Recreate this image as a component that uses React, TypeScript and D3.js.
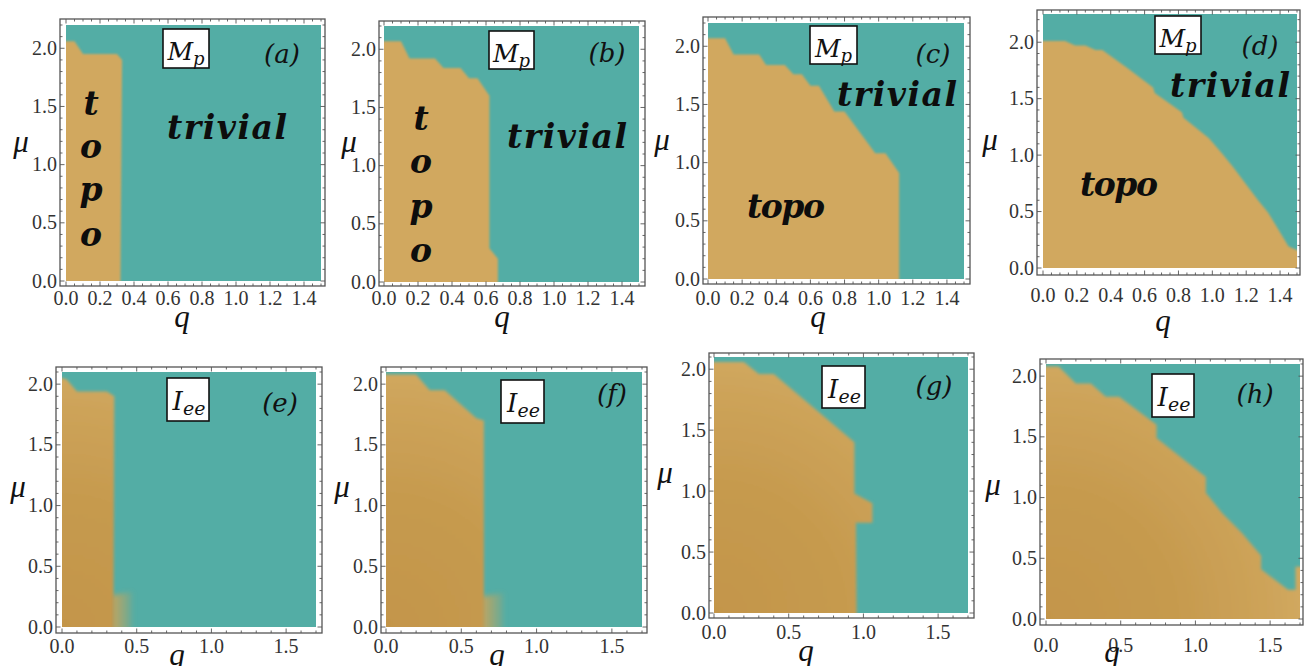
import React from 'react';
import * as d3 from 'd3';

// ---------- data ----------
const qTicksTop = [0, 0.2, 0.4, 0.6, 0.8, 1.0, 1.2, 1.4];
const qTicksBottom = [0, 0.5, 1.0, 1.5];
const muTicks = [0, 0.5, 1.0, 1.5, 2.0];

// topological-phase region boundaries, [q, mu]
const topoA = [[0, 0], [0, 2.06], [0.05, 2.06], [0.1, 1.95], [0.3, 1.95], [0.33, 1.9], [0.32, 0]];
const topoB = [[0, 0], [0, 2.07], [0.1, 2.07], [0.15, 1.92], [0.3, 1.92], [0.35, 1.84], [0.45, 1.84], [0.5, 1.75], [0.55, 1.75], [0.62, 1.6], [0.62, 0.29], [0.67, 0.2], [0.67, 0]];
const topoC = [[0, 0], [0, 2.07], [0.1, 2.07], [0.15, 1.93], [0.3, 1.93], [0.34, 1.84], [0.45, 1.84], [0.5, 1.76], [0.55, 1.76], [0.6, 1.66], [0.65, 1.66], [0.74, 1.44], [0.8, 1.44], [0.98, 1.08], [1.04, 1.08], [1.12, 0.91], [1.12, 0]];
const topoD = [[0, 0], [0, 2.01], [0.13, 2.01], [0.19, 1.97], [0.25, 1.97], [0.31, 1.93], [0.35, 1.93], [0.5, 1.77], [0.65, 1.6], [0.66, 1.55], [0.82, 1.38], [0.83, 1.33], [0.98, 1.15], [1.06, 1.01], [1.12, 0.9], [1.21, 0.72], [1.27, 0.6], [1.33, 0.49], [1.39, 0.34], [1.45, 0.19], [1.5, 0.12], [1.5, 0]];
const topoE = [[0, 0], [0, 2.07], [0.03, 2.04], [0.1, 1.94], [0.3, 1.94], [0.35, 1.9], [0.345, 0.3], [0.345, 0]];
const topoF = [[0, 0], [0, 2.08], [0.2, 2.08], [0.29, 1.95], [0.39, 1.95], [0.6, 1.72], [0.65, 1.7], [0.65, 0]];
const topoG = [[0, 0], [0, 2.06], [0.2, 2.06], [0.3, 1.96], [0.4, 1.96], [0.94, 1.4], [0.94, 0.98], [1.06, 0.9], [1.06, 0.74], [0.95, 0.74], [0.955, 0]];
const topoH = [[0, 0], [0, 2.08], [0.085, 2.08], [0.2, 1.94], [0.3, 1.94], [0.4, 1.83], [0.49, 1.83], [0.74, 1.6], [0.74, 1.49], [1.07, 1.17], [1.07, 1.04], [1.18, 0.87], [1.31, 0.71], [1.44, 0.52], [1.44, 0.41], [1.62, 0.24], [1.67, 0.24], [1.67, 0.43], [1.7, 0.43], [1.7, 0]];
const bumpE = [[0.33, 0], [0.33, 0.26], [0.47, 0.29], [0.47, 0]];
const bumpF = [[0.63, 0], [0.63, 0.25], [0.78, 0.28], [0.78, 0]];

const panelIds = ['a', 'b', 'c', 'd', 'e', 'f', 'g', 'h'];
const panelQMax = [1.5, 1.5, 1.5, 1.5, 1.7, 1.7, 1.7, 1.7];
const panelMuMax = [2.2, 2.2, 2.2, 2.25, 2.1, 2.1, 2.1, 2.1];
const panelQuantity = ['Mp', 'Mp', 'Mp', 'Mp', 'Iee', 'Iee', 'Iee', 'Iee'];
const panelTopo = [topoA, topoB, topoC, topoD, topoE, topoF, topoG, topoH];
const panelBump = [null, null, null, null, bumpE, bumpF, null, null];

// ---------- layout ----------
const layout = [
  { frame: [60, 19, 325, 286], area: [66, 25, 321, 281], tickOff: 19, box: [163, 29, 209, 68], tag: [282, 63], mu: [21, 152], q: [182, 327], trivial: [227, 139], topoV: [91, [115, 158, 201, 246]] },
  { frame: [379, 21, 645, 286], area: [384, 26, 639, 282], tickOff: 19, box: [489, 31, 534, 69], tag: [607, 62], mu: [349, 152], q: [502, 327], trivial: [567, 148], topoV: [421, [130, 173, 218, 262]] },
  { frame: [703, 17, 970, 284], area: [708, 23, 964, 279], tickOff: 21, box: [810, 26, 857, 64], tag: [933, 63], mu: [662, 150], q: [818, 327], trivial: [897, 106], topoH: [786, 218] },
  { frame: [1037, 10, 1300, 275], area: [1043, 14, 1297, 268], tickOff: 27, box: [1155, 16, 1201, 54], tag: [1260, 55], mu: [990, 150], q: [1163, 331], trivial: [1230, 97], topoH: [1119, 196] },
  { frame: [56, 367, 322, 633], area: [62, 372, 316, 627], tickOff: 20, box: [167, 378, 209, 421], tag: [280, 412], mu: [18, 497], q: [177, 665] },
  { frame: [381, 367, 647, 633], area: [386, 372, 642, 627], tickOff: 20, box: [501, 380, 544, 423], tag: [612, 403], mu: [342, 497], q: [497, 665] },
  { frame: [709, 353, 974, 618], area: [714, 357, 968, 613], tickOff: 21, box: [822, 366, 865, 408], tag: [934, 395], mu: [665, 483], q: [806, 661] },
  { frame: [1040, 359, 1303, 625], area: [1046, 364, 1300, 619], tickOff: 27, box: [1152, 374, 1194, 417], tag: [1255, 403], mu: [993, 495], q: [1112, 662] },
];

const TEAL = '#53ada5';
const TAN = '#d1a85e';
const serif = '"Liberation Serif", "Times New Roman", Times, serif';
const djSerif = '"DejaVu Serif", serif';
const fmt = d3.format('.1f');

function Panel({ i }: { i: number }) {
  const L = layout[i];
  const id = panelIds[i];
  const qMax = panelQMax[i];
  const muMax = panelMuMax[i];
  const [fx0, fy0, fx1, fy1] = L.frame;
  const [ax0, ay0, ax1, ay1] = L.area;
  const x = d3.scaleLinear().domain([0, qMax]).range([ax0, ax1]);
  const y = d3.scaleLinear().domain([0, muMax]).range([ay1, ay0]);
  const top = i < 4;
  const isI = panelQuantity[i] === 'Iee';

  const px = (p: number[]) => {
    let X = x(p[0]);
    let Y = y(p[1]);
    if (p[0] <= 0) X -= 10;
    if (p[0] >= qMax - 1e-9) X += 10;
    if (p[1] <= 0) Y += 10;
    return [X, Y] as [number, number];
  };
  const line = d3.line<number[]>().x((p) => px(p)[0]).y((p) => px(p)[1]);
  const topoPath = line(panelTopo[i]) + 'Z';
  const bump = panelBump[i];

  const xMajor = top ? qTicksTop : qTicksBottom;
  const xMinorStep = top ? 0.05 : 0.1;
  const xMinor = d3.range(0, qMax + 1e-9, xMinorStep).filter((v) => !xMajor.some((m) => Math.abs(m - v) < 1e-6));
  const yMinor = d3.range(0, muMax + 1e-9, 0.1).filter((v) => !muTicks.some((m) => Math.abs(m - v) < 1e-6));
  const tickCol = '#555';
  const M = 4.5, m = 2.5;

  const ticks: any[] = [];
  const addX = (v: number, len: number, k: string) => {
    const X = x(v);
    ticks.push(<line key={'xb' + k} x1={X} x2={X} y1={fy1} y2={fy1 - len} stroke={tickCol} strokeWidth={0.9} />);
    ticks.push(<line key={'xt' + k} x1={X} x2={X} y1={fy0} y2={fy0 + len} stroke={tickCol} strokeWidth={0.9} />);
  };
  const addY = (v: number, len: number, k: string) => {
    const Y = y(v);
    ticks.push(<line key={'yl' + k} x1={fx0} x2={fx0 + len} y1={Y} y2={Y} stroke={tickCol} strokeWidth={0.9} />);
    ticks.push(<line key={'yr' + k} x1={fx1} x2={fx1 - len} y1={Y} y2={Y} stroke={tickCol} strokeWidth={0.9} />);
  };
  xMajor.forEach((v, k) => addX(v, M, 'M' + k));
  xMinor.forEach((v, k) => addX(v, m, 'm' + k));
  muTicks.forEach((v, k) => addY(v, M, 'M' + k));
  yMinor.forEach((v, k) => addY(v, m, 'm' + k));

  const [bx0, by0, bx1, by1] = L.box;
  const bcx = (bx0 + bx1) / 2;

  return (
    <g>
      <defs>
        <clipPath id={'clip' + id}>
          <rect x={ax0} y={ay0} width={ax1 - ax0} height={ay1 - ay0} />
        </clipPath>
        <filter id={'blur' + id} x="-20%" y="-20%" width="140%" height="140%">
          <feGaussianBlur stdDeviation={isI ? 1.8 : 1.3} />
        </filter>
        <filter id={'blurb' + id} x="-50%" y="-50%" width="200%" height="200%">
          <feGaussianBlur stdDeviation={2.5} />
        </filter>
        <radialGradient id={'grad' + id} gradientUnits="userSpaceOnUse" cx={ax0} cy={ay1} r={(ax1 - ax0) * 1.15}>
          <stop offset="0" stopColor="#c3954a" />
          <stop offset="0.45" stopColor="#c69a4e" />
          <stop offset="0.75" stopColor="#cda359" />
          <stop offset="1" stopColor="#d4ad64" />
        </radialGradient>
        <linearGradient id={'bg' + id} x1="0" y1="0" x2="1" y2="0">
          <stop offset="0" stopColor="#cba358" stopOpacity={0.95} />
          <stop offset="1" stopColor="#cba358" stopOpacity={0.15} />
        </linearGradient>
      </defs>
      <rect x={fx0} y={fy0} width={fx1 - fx0} height={fy1 - fy0} fill="#fff" />
      <g clipPath={`url(#clip${id})`}>
        <rect x={ax0} y={ay0} width={ax1 - ax0} height={ay1 - ay0} fill={TEAL} />
        {bump && (
          <path d={line(bump) + 'Z'} fill={`url(#bg${id})`} filter={`url(#blurb${id})`} />
        )}
        <path d={topoPath} fill={isI ? `url(#grad${id})` : TAN} filter={`url(#blur${id})`} />
      </g>
      <rect x={fx0} y={fy0} width={fx1 - fx0} height={fy1 - fy0} fill="none" stroke="#555" strokeWidth={1.3} />
      {ticks}
      {/* tick labels */}
      {xMajor.map((v) => (
        <text key={'xl' + v} x={x(v)} y={fy1 + L.tickOff} textAnchor="middle" fontFamily={serif} fontSize={20} fill="#333">
          {fmt(v)}
        </text>
      ))}
      {muTicks.map((v) => (
        <text key={'yl' + v} x={fx0 - 3} y={y(v) + 6.5} textAnchor="end" fontFamily={serif} fontSize={20} fill="#333">
          {fmt(v)}
        </text>
      ))}
      {/* axis labels */}
      <text x={L.mu[0]} y={L.mu[1]} textAnchor="middle" fontFamily={serif} fontStyle="italic" fontSize={31} fill="#111">μ</text>
      <text x={L.q[0]} y={L.q[1]} textAnchor="middle" fontFamily={serif} fontStyle="italic" fontSize={31} fill="#111">q</text>
      {/* quantity box */}
      <rect x={bx0} y={by0} width={bx1 - bx0} height={by1 - by0} fill="#fff" stroke="#111" strokeWidth={1.6} />
      {isI ? (
        <text x={bcx + 1} y={by0 + 32} textAnchor="middle" fontFamily={djSerif} fontStyle="italic" fontSize={26} fill="#111">
          I<tspan dy={5} fontSize={19}>ee</tspan>
        </text>
      ) : (
        <text x={bcx} y={by0 + 31} textAnchor="middle" fontFamily={djSerif} fontStyle="italic" fontSize={25} fill="#111">
          M<tspan dy={5} fontSize={18}>p</tspan>
        </text>
      )}
      <text x={L.tag[0]} y={L.tag[1]} textAnchor="middle" fontFamily={djSerif} fontStyle="italic" fontSize={26} fill="#111">
        ({id})
      </text>
      {L.trivial && (
        <text x={L.trivial[0]} y={L.trivial[1]} textAnchor="middle" fontFamily={djSerif} fontStyle="italic" fontWeight="bold" fontSize={33} fill="#0d0d0d" textLength={120} lengthAdjust="spacing">
          trivial
        </text>
      )}
      {L.topoH && (
        <text x={L.topoH[0]} y={L.topoH[1]} textAnchor="middle" fontFamily={djSerif} fontStyle="italic" fontWeight="bold" fontSize={33} fill="#0d0d0d" textLength={78} lengthAdjust="spacing">
          topo
        </text>
      )}
      {L.topoV &&
        ['t', 'o', 'p', 'o'].map((c, k) => (
          <text key={'tv' + k} x={L.topoV[0]} y={L.topoV[1][k]} textAnchor="middle" fontFamily={djSerif} fontStyle="italic" fontWeight="bold" fontSize={33} fill="#0d0d0d">
            {c}
          </text>
        ))}
    </g>
  );
}

export default function App() {
  return (
    <svg width={1304} height={666} style={{ position: 'absolute', left: 0, top: 0, background: '#fff' }}>
      <rect x={0} y={0} width={1304} height={666} fill="#fff" />
      {panelIds.map((_, i) => (
        <Panel key={i} i={i} />
      ))}
    </svg>
  );
}
